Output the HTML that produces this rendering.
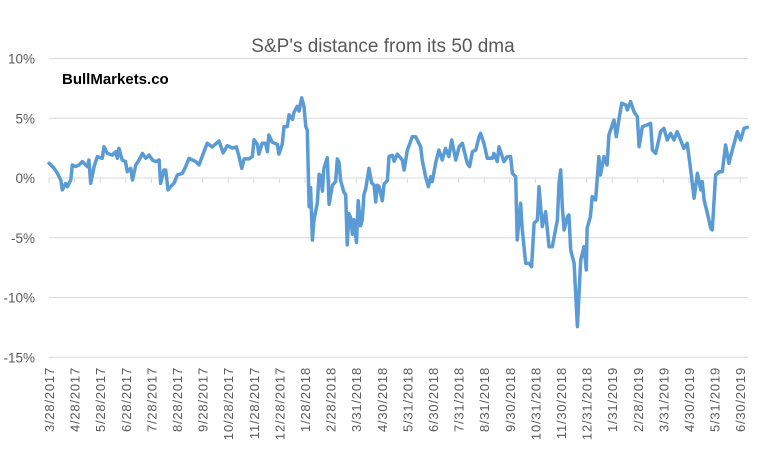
<!DOCTYPE html>
<html><head><meta charset="utf-8"><style>
html,body{margin:0;padding:0;background:#fff;}
svg{display:block;font-family:"Liberation Sans",sans-serif;}
</style></head><body>
<svg id="chart" width="766" height="449">
<text x="383" y="52" text-anchor="middle" font-size="19" fill="#595959">S&amp;P's distance from its 50 dma</text>
<text x="62" y="84" font-size="15" font-weight="bold" fill="#000">BullMarkets.co</text>
<g id="grid"></g><g id="yaxis"></g><g id="xaxis"></g><g id="series"></g>
</svg>
<script>
const yTicks=[10,5,0,-5,-10,-15];
const xLabels=["3/28/2017","4/28/2017","5/28/2017","6/28/2017","7/28/2017","8/28/2017","9/28/2017","10/28/2017","11/28/2017","12/28/2017","1/28/2018","2/28/2018","3/31/2018","4/30/2018","5/31/2018","6/30/2018","7/31/2018","8/31/2018","9/30/2018","10/31/2018","11/30/2018","12/31/2018","1/31/2019","2/28/2019","3/31/2019","4/30/2019","5/31/2019","6/30/2019"];
const months=[0,0.2,0.33,0.46,0.52,0.65,0.72,0.85,0.91,1.04,1.17,1.3,1.5,1.56,1.63,1.76,1.89,2.08,2.15,2.28,2.47,2.6,2.67,2.73,2.86,2.99,3.06,3.19,3.26,3.39,3.52,3.65,3.78,3.91,4.04,4.17,4.3,4.36,4.49,4.56,4.65,4.75,4.88,5.01,5.21,5.34,5.47,5.6,5.73,
5.86,6.18,6.38,6.64,6.8,6.97,7.16,7.32,7.42,7.53,7.62,7.81,7.94,8.01,8.14,8.2,8.33,8.46,8.53,8.59,8.72,8.92,8.98,9.11,9.18,9.31,9.38,9.51,9.57,9.7,9.77,9.87,9.96,10.03,10.09,10.16,10.22,10.29,10.35,10.48,10.55,10.61,10.68,10.74,10.87,10.94,11.07,11.2,11.26,11.33,11.39,11.52,11.59,11.65,11.72,11.78,11.85,11.91,12.01,12.08,12.17,12.24,12.3,12.37,12.5,12.6,12.7,12.76,12.83,12.89,13.02,13.09,13.22,13.28,13.41,13.48,13.61,
13.8,13.87,14.0,14.19,14.32,14.52,14.58,14.71,14.82,14.91,14.97,15.1,15.23,15.36,15.49,15.62,15.73,15.89,16.02,16.15,16.34,16.43,16.54,16.67,16.8,16.86,16.99,17.12,17.32,17.38,17.51,17.58,17.77,17.9,18.03,18.1,18.23,18.29,18.42,18.49,18.62,18.75,18.85,18.95,19.08,19.14,19.27,19.4,19.53,19.66,19.86,19.92,19.99,20.05,20.12,20.25,20.31,20.38,20.51,20.64,20.77,20.9,20.99,21.02,21.15,21.22,21.35,21.48,21.54,21.68,21.8,21.87,22.07,22.16,22.27,22.37,22.53,22.59,22.72,22.85,22.98,23.05,23.18,23.37,23.5,23.57,23.7,23.89,24.02,24.15,24.28,24.41,24.54,24.67,24.8,24.93,25.06,25.2,25.33,25.46,25.52,25.59,25.72,25.85,25.91,26.04,26.17,26.3,26.43,26.56,26.69,26.89,27.02,27.15,27.28];
const values=[1.23,0.81,0.39,-0.17,-1.0,-0.45,-0.73,-0.17,1.09,0.95,1.09,1.37,0.95,1.51,-0.45,0.95,1.79,1.65,2.62,2.06,1.92,2.2,1.65,2.48,1.51,1.37,0.53,0.81,-0.17,1.09,1.51,2.06,1.65,1.92,1.51,1.37,1.51,-0.45,0.67,0.67,-1.0,-0.73,-0.45,0.25,0.39,0.95,1.65,1.51,1.37,
1.1,2.9,2.6,3.1,2.1,2.7,2.5,2.6,1.8,0.8,1.6,1.6,1.8,3.2,2.8,2.0,2.9,2.9,2.2,3.6,3.0,2.8,2.0,2.8,4.3,4.3,5.3,4.9,5.5,6.0,5.6,6.7,6.0,4.3,4.0,-2.4,-0.8,-5.2,-3.5,-2.1,0.3,0.2,-1.1,0.8,1.7,-2.2,-0.6,-0.3,1.6,1.3,-0.2,-1.2,-1.4,-5.6,-3.0,-3.3,-4.7,-3.5,-5.4,-1.9,-4.0,-3.5,-1.4,-0.9,0.8,-0.4,-0.6,-2.0,-0.6,-0.7,-1.9,-0.5,-0.2,1.8,1.9,1.4,2.0,
1.51,0.67,2.34,3.46,3.46,2.62,1.51,0.11,-0.73,0.11,-0.31,1.23,2.34,1.51,2.48,1.79,3.18,1.51,2.62,2.9,1.23,0.95,2.2,2.34,3.46,3.74,2.9,1.65,1.65,2.06,1.37,2.62,1.37,1.79,1.79,0.39,0.11,-5.19,-2.12,-4.35,-7.14,-7.14,-7.42,-3.79,-3.51,-0.73,-4.07,-2.82,-5.75,-5.75,-3.51,-0.45,0.67,-2.4,-4.35,-3.24,-3.1,-6.03,-7.14,-12.44,-6.86,-5.75,-7.7,-4.21,-3.24,-1.56,-1.84,1.79,0.25,1.79,1.09,3.6,4.85,3.46,4.99,6.25,6.11,5.69,6.39,5.55,5.13,2.62,4.3,4.44,4.57,2.34,2.06,3.88,4.16,3.18,3.74,3.18,3.88,3.18,2.48,2.9,0.81,-1.7,0.39,-1.0,-0.31,-1.84,-2.96,-4.21,-4.35,0.25,0.53,0.53,2.76,1.23,2.34,3.88,3.18,4.16,4.24];

const NS='http://www.w3.org/2000/svg';
const X0=49,XW=25.6,Y0=178,YK=11.95,XR=748;
function xs(m){return X0+m*XW;}
function ys(v){return Y0-v*YK;}
function mk(tag,attrs,parent){const e=document.createElementNS(NS,tag);for(const k in attrs)e.setAttribute(k,attrs[k]);parent.appendChild(e);return e;}
const grid=document.getElementById('grid'),ya=document.getElementById('yaxis'),xa=document.getElementById('xaxis'),se=document.getElementById('series');
yTicks.forEach(t=>{
  const l=mk('line',{x1:X0,x2:XR,y1:ys(t),y2:ys(t),stroke:'#d9d9d9','stroke-width':1},grid);
  
  
  const tx=mk('text',{x:35,y:ys(t)+5,'text-anchor':'end','font-size':13.5,fill:'#595959'},ya);
  tx.textContent=t+'%';
  
  
});
xLabels.forEach((lab,i)=>{
  const x=xs(i);
  const tk=mk('line',{x1:x,x2:x,y1:Y0,y2:Y0+5,stroke:'#d9d9d9','stroke-width':1},xa);
  
  
  const t=mk('text',{x:0,y:0,'text-anchor':'end','font-size':13,'letter-spacing':'0.8',fill:'#595959',transform:'translate('+(x+5)+',367) rotate(-90)'},xa);
  t.textContent=lab;
  
  
});
const pts=months.map((m,i)=>xs(m).toFixed(1)+','+ys(values[i]).toFixed(1)).join(' ');
const pl=mk('polyline',{points:pts,fill:'none',stroke:'#5b9bd5','stroke-width':3.5,'stroke-linejoin':'round','stroke-linecap':'round'},se);


</script>
</body></html>
